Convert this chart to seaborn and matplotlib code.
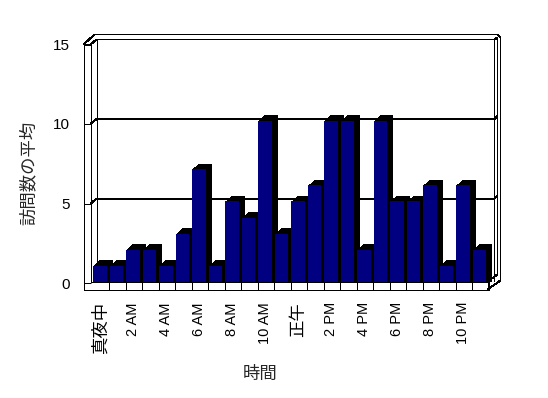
import matplotlib
matplotlib.use('Agg')
import matplotlib.pyplot as plt
import matplotlib.transforms as mtransforms
import pandas as pd
import seaborn as sns

hours = list(range(24))
visits = [1, 1, 2, 2, 1, 3, 7, 1, 5, 4, 10, 3, 5, 6, 10, 10, 2, 10, 5, 5, 6, 1, 6, 2]
tick_positions = list(range(0, 24, 2))
tick_labels = ['真夜中', '2 AM', '4 AM', '6 AM', '8 AM', '10 AM', '正午',
               '2 PM', '4 PM', '6 PM', '8 PM', '10 PM']
y_ticks = [0, 5, 10, 15]
x_title = '時間'
y_title = '訪問数の平均'

sns.set_style('white')
plt.rcParams['font.family'] = ['Liberation Sans', 'Noto Sans CJK JP']

W, H = 548, 398
fig = plt.figure(figsize=(W / 100, H / 100), dpi=100)


def fr(x0, y0, x1, y1):
    return [x0 / W, 1 - y1 / H, (x1 - x0) / W, (y1 - y0) / H]


# ---- decorative 3D frame (pixel coords) ----
deco = fig.add_axes([0, 0, 1, 1], zorder=0)
deco.set_xlim(0, W)
deco.set_ylim(H, 0)
deco.axis('off')

LW = 0.72


def L(pts):
    xs = [p[0] for p in pts]
    ys = [p[1] for p in pts]
    deco.plot(xs, ys, color='black', lw=LW, antialiased=False,
              solid_capstyle='butt')


def yf(v):
    return 283.3 - 15.93 * v


def yb(v):
    return yf(v) - 5


L([(83.5, 289.5), (83.5, 44.5), (90.5, 44.5), (90.5, 281.5)])
L([(90.5, 44.5), (96.5, 39.5), (494.5, 39.5), (494.5, 282)])
L([(96.5, 39.5), (96.5, 282)])
L([(83.5, 44.5), (94.5, 34.5), (497.5, 34.5), (500.5, 37.5), (500.5, 280.5), (487.5, 289.5)])
L([(494.5, 39.5), (497.5, 37.5), (497.5, 276)])
L([(83.5, 289.5), (487.5, 289.5), (487.5, 281.5), (90.5, 281.5)])
L([(487.5, 281.5), (497.5, 274.5)])
for k in range(1, 25):
    x = round(91.7 + 16.5 * k) + 0.5
    L([(x, 281.5), (x, 289.5)])
for v in (5, 10):
    L([(90.5, yf(v)), (96.5, yb(v)), (494.5, yb(v)), (497.5, yb(v) - 3)])

# ---- front y axis (ticks + labels) ----
axf = fig.add_axes(fr(83.5, 44.3, 90.5, 283.3), zorder=1)
axf.patch.set_alpha(0)
for s in axf.spines.values():
    s.set_visible(False)
axf.set_ylim(0, 15)
axf.set_xticks([])
axf.set_yticks(y_ticks, [str(t) for t in y_ticks])
axf.tick_params(axis='y', direction='in', length=5.0, width=0.72, pad=9.6,
                labelsize=11, colors='black', left=True)
axf.set_ylabel(y_title, fontsize=12.5)
axf.yaxis.set_label_coords(36.5 / W, 1 - 173 / H, transform=fig.transFigure)

# ---- bars ----
FX0 = 91.7
SLOT = 16.5
BAR_BOTTOM = 282.0
PX_PER_UNIT = 16.1
RIGHT = 502.0
ax = fig.add_axes(fr(FX0, BAR_BOTTOM - 15 * PX_PER_UNIT, RIGHT, BAR_BOTTOM), zorder=2)
ax.patch.set_alpha(0)

df = pd.DataFrame({'hour': hours, 'visits': visits})

DX, DY = 6.0, 5.5
steps = 6
for i in range(steps, 0, -1):
    n0 = len(ax.patches)
    sns.barplot(data=df, x='hour', y='visits', color='black', saturation=1,
                width=0.8, linewidth=0, errorbar=None, ax=ax)
    tr = mtransforms.offset_copy(ax.transData, fig=fig, x=DX * i / steps,
                                 y=DY * i / steps, units='dots')
    for p in ax.patches[n0:]:
        p.set_transform(tr)
        h = p.get_height()
        p.set_y(-1)
        p.set_height(h + 1)

sns.barplot(data=df, x='hour', y='visits', color='#000080', saturation=1,
            width=0.8, linewidth=0, errorbar=None, ax=ax)

ax.set_xlim(-0.5, -0.5 + (RIGHT - FX0) / SLOT)
ax.set_ylim(0, 15)
for s in ax.spines.values():
    s.set_visible(False)
ax.grid(False)
ax.set_yticks([])
ax.set_ylabel('')
ax.set_xticks(tick_positions, tick_labels)
ax.tick_params(axis='x', length=0, pad=14.4, labelsize=10.5, colors='black')
for lbl in ax.get_xticklabels():
    lbl.set_rotation(90)
    lbl.set_rotation_mode('default')
    lbl.set_horizontalalignment('center')
    lbl.set_verticalalignment('top')
    if not lbl.get_text().isascii():
        lbl.set_fontsize(12.5)
ax.set_xlabel(x_title, fontsize=12.5)
ax.xaxis.set_label_coords(260 / W, 1 - 366 / H, transform=fig.transFigure)

fig.savefig('out.png', dpi=100)
